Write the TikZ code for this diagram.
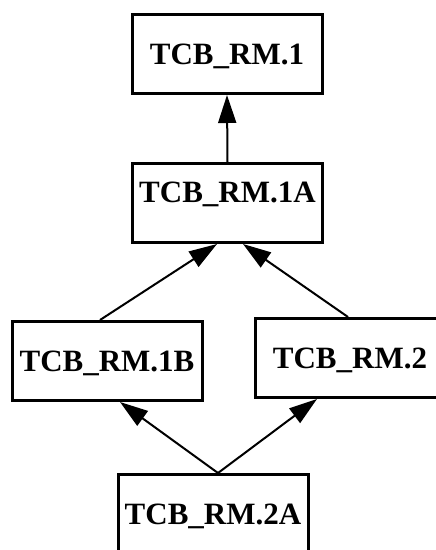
\documentclass[tikz,border=0pt]{standalone}
\usepackage{fontspec}
\setmainfont{Liberation Serif}
\usetikzlibrary{arrows.meta}
\begin{document}
\begin{tikzpicture}[x=1pt,y=-1pt,
  rmbox/.style={draw, line width=3pt, minimum width=190pt, minimum height=79pt,
    inner sep=0pt, text height=21pt, text depth=0pt,
    font=\fontsize{31}{31}\selectfont\bfseries},
  dep/.style={line width=2pt, -{Triangle[length=28pt,width=18pt]}}]
  \useasboundingbox (0,0) rectangle (436,550);
  % requirement boxes
  \node[rmbox] (r1)  at (227,54)  {TCB\_RM.1};
  \node[rmbox, text depth=22pt] (r1a) at (227.5,203) {TCB\_RM.1A};
  \node[rmbox] (r1b) at (107,361) {TCB\_RM.1B};
  \node[rmbox] (r2)  at (350,358) {TCB\_RM.2};
  \node[rmbox] (r2a) at (213,514) {TCB\_RM.2A};
  % dependencies
  \draw[dep] (r1a.north) -- (r1.south);
  \draw[dep] ([xshift=-7pt]r1b.north) -- ([xshift=-10.5pt]r1a.south);
  \draw[dep] ([xshift=-2pt]r2.north) -- ([xshift=15.5pt]r1a.south);
  \draw[dep] ([xshift=5pt]r2a.north) -- ([xshift=13pt]r1b.south);
  \draw[dep] ([xshift=5pt]r2a.north) -- ([xshift=-33pt]r2.south);
\end{tikzpicture}
\end{document}
